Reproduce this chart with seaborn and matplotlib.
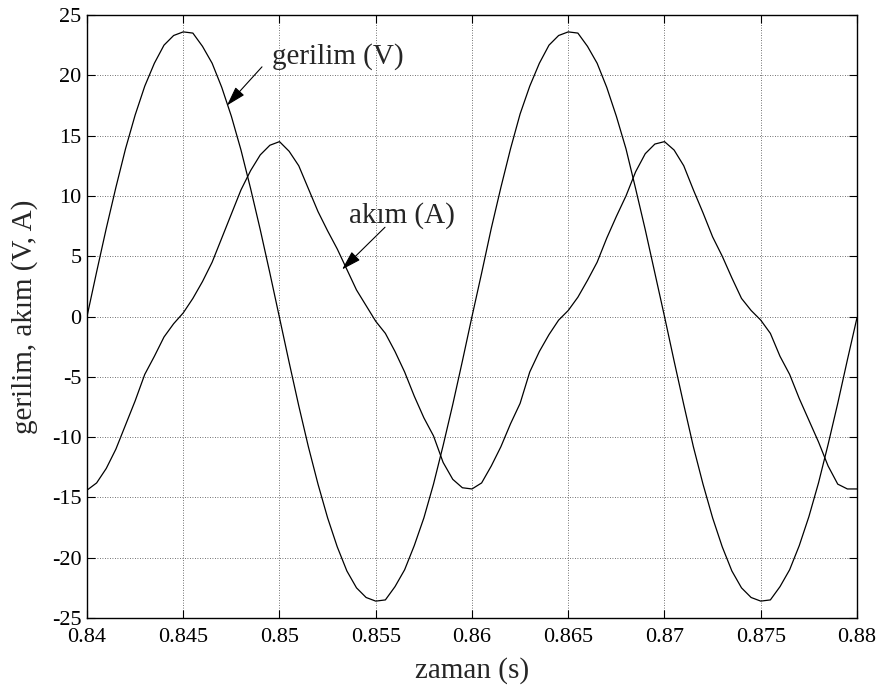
import matplotlib
matplotlib.use("Agg")
import matplotlib.pyplot as plt
import seaborn as sns
import numpy as np
import pandas as pd

time_start = 0.840
time_step = 0.0005
gerilim = [0.0, 3.7, 7.3, 10.7, 13.9, 16.7, 19.1, 21.0, 22.5, 23.3,
           23.6, 23.5, 22.4, 21.0, 19.0, 16.6, 13.8, 10.6, 7.2, 3.6,
           -0.1, -3.8, -7.4, -10.8, -13.9, -16.7, -19.1, -21.1, -22.5, -23.3,
           -23.6, -23.5, -22.4, -21.0, -19.0, -16.7, -13.9, -10.7, -7.3, -3.7,
           0.0, 3.6, 7.3, 10.7, 13.9, 16.8, 19.1, 21.0, 22.5, 23.3,
           23.6, 23.5, 22.4, 21.0, 19.0, 16.6, 13.9, 10.6, 7.2, 3.6,
           0.0, -3.7, -7.3, -10.8, -13.9, -16.7, -19.1, -21.1, -22.5, -23.3,
           -23.6, -23.5, -22.4, -21.0, -19.0, -16.6, -13.8, -10.6, -7.2, -3.6,
           -0.1]
akim = [-14.4, -13.8, -12.6, -11.0, -9.0, -7.0, -4.8, -3.3, -1.7, -0.6,
        0.3, 1.5, 2.9, 4.5, 6.5, 8.5, 10.5, 12.1, 13.4, 14.2,
        14.5, 13.7, 12.5, 10.6, 8.7, 7.1, 5.6, 3.9, 2.2, 0.9,
        -0.4, -1.4, -2.9, -4.6, -6.6, -8.4, -9.9, -12.1, -13.5, -14.2,
        -14.3, -13.8, -12.4, -10.8, -8.9, -7.2, -4.6, -2.9, -1.5, -0.3,
        0.5, 1.6, 3.0, 4.5, 6.5, 8.3, 10.0, 12.0, 13.5, 14.3,
        14.5, 13.8, 12.5, 10.5, 8.6, 6.6, 5.0, 3.2, 1.5, 0.5,
        -0.3, -1.4, -3.3, -4.8, -6.8, -8.6, -10.4, -12.4, -13.9, -14.3,
        -14.3]
x_ticks = [0.84, 0.845, 0.85, 0.855, 0.86, 0.865, 0.87, 0.875, 0.88]
x_tick_labels = ["0.84", "0.845", "0.85", "0.855", "0.86", "0.865", "0.87", "0.875", "0.88"]
y_ticks = [-25, -20, -15, -10, -5, 0, 5, 10, 15, 20, 25]
y_tick_labels = ["-25", "-20", "-15", "-10", "-5", "0", "5", "10", "15", "20", "25"]
x_label = "zaman (s)"
y_label = "gerilim, akım (V, A)"
label_v = "gerilim (V)"
label_a = "akım (A)"

zaman = time_start + time_step * np.arange(len(gerilim))
df = pd.DataFrame({"zaman": np.concatenate([zaman, zaman]),
                   "deger": gerilim + akim,
                   "seri": [label_v] * len(gerilim) + [label_a] * len(akim)})

sns.set_style("ticks")
plt.rcParams["font.family"] = ["Liberation Serif", "DejaVu Serif"]
plt.rcParams["axes.unicode_minus"] = False

fig = plt.figure(figsize=(8.8, 6.87), dpi=100)
ax = fig.add_axes([87 / 880, 1 - 618 / 687, 770 / 880, 603 / 687])

sns.lineplot(data=df, x="zaman", y="deger", hue="seri",
             palette={label_v: "black", label_a: "black"},
             linewidth=0.9, legend=False, ax=ax, estimator=None, sort=False)

ax.set_xlim(0.84, 0.88)
ax.set_ylim(-25, 25)
ax.set_xticks(x_ticks)
ax.set_xticklabels(x_tick_labels)
ax.set_yticks(y_ticks)
ax.set_yticklabels(y_tick_labels)
ax.tick_params(axis="both", direction="in", length=6, width=0.8,
               labelsize=16, top=True, right=True, colors="black")
ax.tick_params(axis="x", pad=7)
ax.tick_params(axis="y", pad=4)
ax.grid(True, color="#444444", linestyle=(0, (1, 2)), linewidth=0.6)
for s in ax.spines.values():
    s.set_visible(True)
    s.set_color("black")
    s.set_linewidth(1.0)

ax.set_xlabel(x_label, fontsize=21)
ax.set_ylabel(y_label, fontsize=21)
ax.xaxis.set_label_coords(0.5, -0.064)
ax.yaxis.set_label_coords(-0.063, 0.5)

ax.text(0.85304, 21.0, label_v, fontsize=21, ha="center", va="baseline")
ax.text(0.85636, 7.8, label_a, fontsize=21, ha="center", va="baseline")
arrow_kw = dict(arrowstyle="-|>,head_length=1.0,head_width=0.3",
                color="black", lw=0.8, mutation_scale=12, shrinkA=0, shrinkB=0)
ax.annotate("", xy=(0.84727, 17.5), xytext=(0.84909, 20.7), arrowprops=arrow_kw)
ax.annotate("", xy=(0.85325, 3.9), xytext=(0.85548, 7.4), arrowprops=arrow_kw)

fig.savefig("out.png", dpi=100)
